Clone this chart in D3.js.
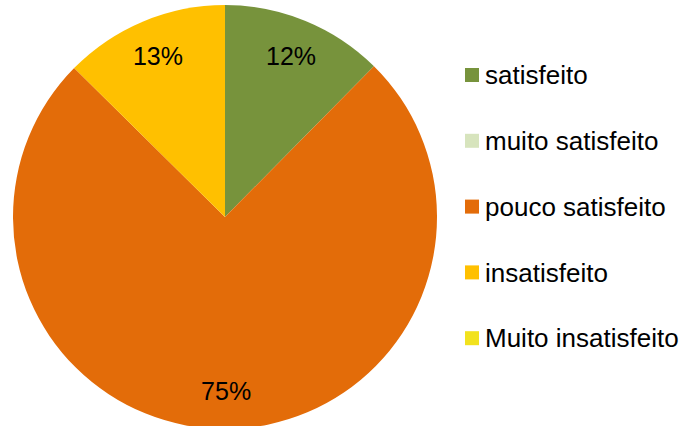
<!DOCTYPE html>
<html>
<head>
<meta charset="utf-8">
<script src="https://cdn.jsdelivr.net/npm/d3@7"></script>
<style>
  body { margin: 0; background: #fff; }
  svg { display: block; font-family: "Liberation Sans", Arial, sans-serif; }
</style>
</head>
<body>
<div class="chart"></div>
<script>
var categories = ["satisfeito", "muito satisfeito", "pouco satisfeito", "insatisfeito", "Muito insatisfeito"];
var values = [12.4, 0, 75, 12.6, 0];
var colors = ["#77933C", "#D7E4BD", "#E36C09", "#FFC000", "#F2E21E"];

var width = 685, height = 426;
var cx = 225, cy = 217, radius = 212;

var svg = d3.select(".chart").append("svg")
    .attr("width", width)
    .attr("height", height);

var data = categories.map(function(c, i) { return {name: c, value: values[i], color: colors[i]}; });

var pie = d3.pie()
    .sort(null)
    .value(function(d) { return d.value; });

var arc = d3.arc()
    .innerRadius(0)
    .outerRadius(radius);

var labelArc = d3.arc()
    .innerRadius(174)
    .outerRadius(174);

var total = d3.sum(values);

var g = svg.append("g")
    .attr("transform", "translate(" + cx + "," + cy + ")");

var slices = pie(data);

g.selectAll("path.slice")
    .data(slices)
    .enter().append("path")
    .attr("class", "slice")
    .attr("d", arc)
    .style("fill", function(d) { return d.data.color; });

g.selectAll("text.pct")
    .data(slices.filter(function(d) { return d.data.value > 0; }))
    .enter().append("text")
    .attr("class", "pct")
    .attr("transform", function(d) { return "translate(" + labelArc.centroid(d) + ")"; })
    .attr("text-anchor", "middle")
    .attr("dy", "0.35em")
    .style("font-size", "25px")
    .style("fill", "#000")
    .text(function(d) { return Math.round(d.data.value / total * 100) + "%"; });

// legend
var legend = svg.append("g")
    .attr("transform", "translate(465,75)");

var item = legend.selectAll("g.item")
    .data(data)
    .enter().append("g")
    .attr("class", "item")
    .attr("transform", function(d, i) { return "translate(0," + (i * 65.8) + ")"; });

item.append("rect")
    .attr("x", 0)
    .attr("y", -7)
    .attr("width", 14)
    .attr("height", 14)
    .style("fill", function(d) { return d.color; });

item.append("text")
    .attr("x", 20)
    .attr("dy", "0.35em")
    .style("font-size", "26px")
    .style("fill", "#000")
    .text(function(d) { return d.name; });
</script>
</body>
</html>
